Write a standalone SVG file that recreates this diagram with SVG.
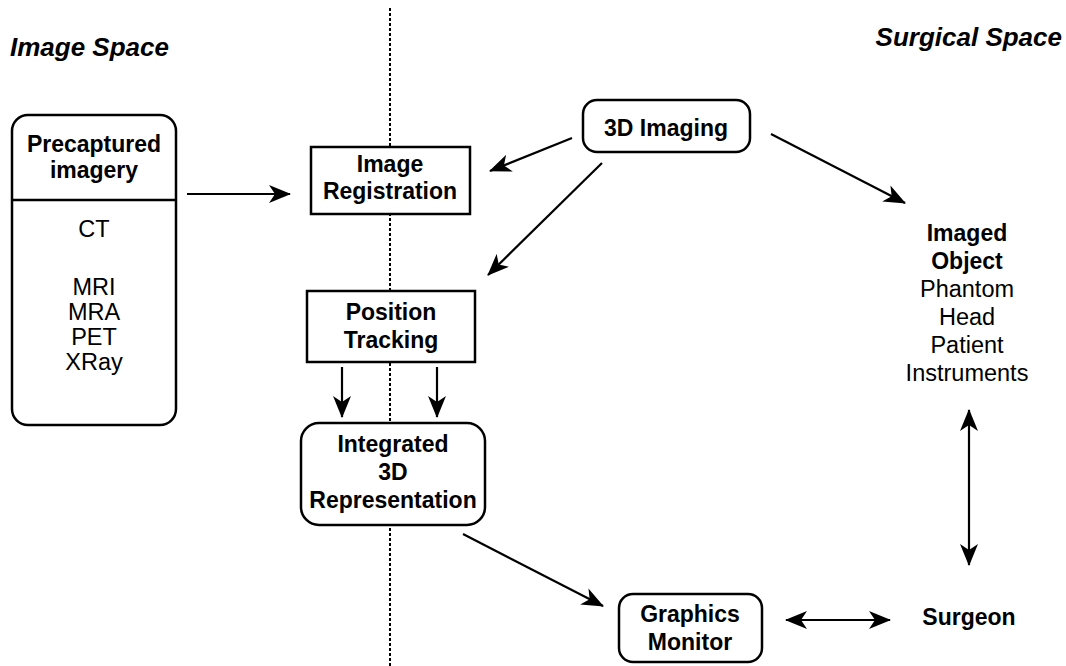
<svg xmlns="http://www.w3.org/2000/svg" width="1066" height="666" viewBox="0 0 1066 666">
<defs>
<marker id="ah" markerUnits="userSpaceOnUse" markerWidth="22" markerHeight="18" refX="21" refY="9" orient="auto-start-reverse" viewBox="0 0 22 18">
<path d="M0,0 L22,9 L0,18 L6,9 Z" fill="#000"/>
</marker>
<style>
.box{fill:#fff;stroke:#000;stroke-width:2.5}
.b{font-family:"Liberation Sans",Arial,sans-serif;font-weight:bold;font-size:23px;text-anchor:middle;fill:#000}
.r{font-family:"Liberation Sans",Arial,sans-serif;font-size:23.5px;text-anchor:middle;fill:#000}
.t{font-family:"Liberation Sans",Arial,sans-serif;font-weight:bold;font-style:italic;font-size:26px;fill:#000}
.c{stroke:#000;stroke-width:2.2;fill:none;marker-end:url(#ah)}
.d{marker-start:url(#ah)}
</style>
</defs>
<rect width="1066" height="666" fill="#fff"/>
<g id="titles">
<text class="t" x="10" y="56">Image Space</text>
<text class="t" x="1062" y="46" text-anchor="end">Surgical Space</text>
</g>
<g id="divider">
<line x1="390" y1="8" x2="390" y2="666" stroke="#000" stroke-width="2" stroke-dasharray="3,2"/>
</g>
<g id="connectors">
<line class="c" x1="187" y1="194" x2="290" y2="194"/>
<line class="c" x1="572" y1="138" x2="490" y2="171"/>
<line class="c" x1="602" y1="163" x2="488" y2="275"/>
<line class="c" x1="771" y1="134" x2="905" y2="203"/>
<line class="c" x1="342" y1="367" x2="342" y2="417"/>
<line class="c" x1="437" y1="367" x2="437" y2="417"/>
<line class="c" x1="463" y1="534" x2="603" y2="606"/>
<line class="c d" x1="786" y1="620" x2="890" y2="620"/>
<line class="c d" x1="969" y1="410" x2="969" y2="565"/>
</g>
<g id="precaptured">
<rect class="box" x="12" y="115" width="164" height="310" rx="16"/>
<line x1="12" y1="200" x2="176" y2="200" stroke="#000" stroke-width="2.5"/>
<text class="b" x="94" y="152">Precaptured</text>
<text class="b" x="94" y="178">imagery</text>
<text class="r" x="94" y="237">CT</text>
<text class="r" x="94" y="295">MRI</text>
<text class="r" x="94" y="320">MRA</text>
<text class="r" x="94" y="345">PET</text>
<text class="r" x="94" y="370">XRay</text>
</g>
<g id="image-registration">
<rect class="box" x="311" y="147" width="159" height="67"/>
<text class="b" x="390" y="172">Image</text>
<text class="b" x="390" y="199">Registration</text>
</g>
<g id="imaging-3d">
<rect class="box" x="583" y="100" width="167" height="52" rx="14"/>
<text class="b" x="666" y="136">3D Imaging</text>
</g>
<g id="position-tracking">
<rect class="box" x="307" y="291" width="168" height="71"/>
<text class="b" x="391" y="320">Position</text>
<text class="b" x="391" y="348">Tracking</text>
</g>
<g id="integrated">
<rect class="box" x="301" y="423" width="184" height="102" rx="18"/>
<text class="b" x="393" y="452">Integrated</text>
<text class="b" x="393" y="480">3D</text>
<text class="b" x="393" y="508">Representation</text>
</g>
<g id="graphics-monitor">
<rect class="box" x="619" y="594" width="143" height="68" rx="14"/>
<text class="b" x="690" y="622">Graphics</text>
<text class="b" x="690" y="650">Monitor</text>
</g>
<g id="surgeon">
<text class="b" x="969" y="625">Surgeon</text>
</g>
<g id="imaged-object">
<text class="b" x="967" y="241">Imaged</text>
<text class="b" x="967" y="269">Object</text>
<text class="r" x="967" y="297">Phantom</text>
<text class="r" x="967" y="325">Head</text>
<text class="r" x="967" y="353">Patient</text>
<text class="r" x="967" y="381">Instruments</text>
</g>
</svg>
